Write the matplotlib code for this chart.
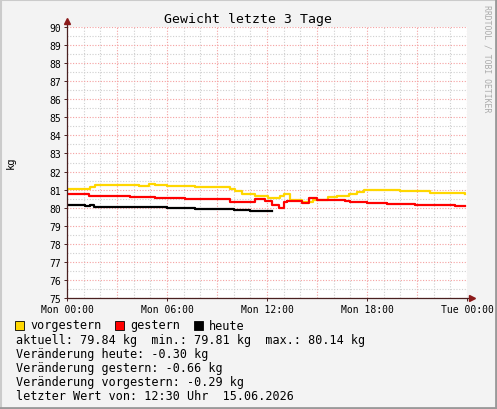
import matplotlib
matplotlib.use("Agg")
import matplotlib.pyplot as plt
from matplotlib.patches import Rectangle
from matplotlib.lines import Line2D

W, H = 497, 410
MONO = "DejaVu Sans Mono"

# hours of the day and weight in kg (step data, one line per day)
vorgestern_h = [0, 1.4, 1.7, 4.3, 4.9, 5.3, 6.0, 7.7, 9.0, 9.8, 10.1, 10.5, 11.3, 12.05,
                12.8, 13.0, 13.35, 14.1, 14.75, 15.65, 16.2, 16.9, 17.4, 17.8, 20.0, 21.8, 23.9]
vorgestern_kg = [81.05, 81.12, 81.27, 81.22, 81.3, 81.27, 81.2, 81.15, 81.12, 81.05, 80.9, 80.76,
                 80.65, 80.55, 80.62, 80.76, 80.4, 80.3, 80.43, 80.57, 80.67, 80.76, 80.85, 81.0,
                 80.92, 80.82, 80.76]

gestern_h = [0, 1.3, 3.8, 5.3, 7.1, 9.8, 11.3, 11.9, 12.3, 12.7, 13.0, 13.2, 14.1, 14.5,
             15.0, 16.7, 17.0, 18.0, 19.2, 20.9, 23.3, 23.9]
gestern_kg = [80.73, 80.66, 80.58, 80.52, 80.46, 80.34, 80.48, 80.35, 80.15, 80.0, 80.3, 80.35,
              80.27, 80.54, 80.45, 80.38, 80.3, 80.25, 80.18, 80.12, 80.08, 80.07]

heute_h = [0, 1.1, 1.35, 1.6, 3.0, 6.0, 7.7, 10.0, 11.0, 11.4, 12.3]
heute_kg = [80.14, 80.08, 80.12, 80.05, 80.05, 79.98, 79.9, 79.88, 79.81, 79.84, 79.84]

x_ticks = [0, 6, 12, 18, 24]
x_labels = ["Mon 00:00", "Mon 06:00", "Mon 12:00", "Mon 18:00", "Tue 00:00"]
y_ticks = list(range(75, 91))

legend_rows = [
    "aktuell: 79.84 kg  min.: 79.81 kg  max.: 80.14 kg",
    "Veränderung heute: -0.30 kg",
    "Veränderung gestern: -0.66 kg",
    "Veränderung vorgestern: -0.29 kg",
    "letzter Wert von: 12:30 Uhr  15.06.2026",
]


def fx(x):
    return x / W


def fy(y):
    return 1 - y / H


fig = plt.figure(figsize=(W / 100, H / 100), dpi=100, facecolor="#F3F3F3")

# plot area: x 67..467 px, y 28..299 px
ax = fig.add_axes([fx(67), fy(299), 400 / W, 271 / H])
ax.set_facecolor("white")
ax.set_xlim(0, 24)
ax.set_ylim(75, 90)

# grid
for h in range(25):
    major = h % 3 == 0
    ax.axvline(h, color="#F5A0A0" if major else "#CFCFCF", lw=0.8,
               ls=(0, (1, 1.5)), zorder=1)
for v in range(150, 181):
    kg = v / 2
    major = v % 2 == 0
    ax.axhline(kg, color="#F5A0A0" if major else "#CFCFCF", lw=0.8,
               ls=(0, (1, 1.5)), zorder=1)

ax.plot(vorgestern_h, vorgestern_kg, color="#FFD700", lw=1.6, drawstyle="steps-post", zorder=3)
ax.plot(gestern_h, gestern_kg, color="#FF0000", lw=1.6, drawstyle="steps-post", zorder=4)
ax.plot(heute_h, heute_kg, color="#000000", lw=1.6, drawstyle="steps-post", zorder=5)

for s in ax.spines.values():
    s.set_visible(False)
axis_c = "#4A2020"
ax.plot([0, 0], [75, 90.3], color=axis_c, lw=0.9, clip_on=False, zorder=6)
ax.plot([0, 24.25], [75, 75], color=axis_c, lw=0.9, clip_on=False, zorder=6)
ax.plot([0], [90.35], marker="^", color="#8B1A1A", ms=4, clip_on=False, zorder=7)
ax.plot([24.3], [75], marker=">", color="#8B1A1A", ms=4, clip_on=False, zorder=7)

ax.set_xticks(x_ticks)
ax.set_xticklabels(x_labels, fontfamily=MONO, fontsize=7)
ax.set_yticks(y_ticks)
ax.set_yticklabels([str(v) for v in y_ticks], fontfamily=MONO, fontsize=7)
ax.tick_params(axis="both", length=2, width=0.7, color=axis_c, pad=2)

# texts
fig.text(fx(248.5), fy(19), "Gewicht letzte 3 Tage", fontfamily=MONO, fontsize=9.5,
         ha="center", va="center")
fig.text(fx(11), fy(163), "kg", fontfamily=MONO, fontsize=7.5, rotation=90,
         ha="center", va="center")
fig.text(fx(487), fy(5), "RRDTOOL / TOBI OETIKER", fontfamily=MONO, fontsize=5.9,
         rotation=270, ha="center", va="top", color="#ABABAB")

# legend
row_y = 326
for x0, c, label in [(15, "#FFD700", "vorgestern"), (115, "#FF0000", "gestern"),
                     (194, "#000000", "heute")]:
    fig.patches.append(Rectangle((fx(x0), fy(row_y + 4.5)), 9 / W, 9 / H, facecolor=c,
                                 edgecolor="black", lw=0.6, transform=fig.transFigure))
    fig.text(fx(x0 + 15), fy(row_y), label, fontfamily=MONO, fontsize=8.5,
             ha="left", va="center")
for i, t in enumerate(legend_rows):
    fig.text(fx(16), fy(340.5 + i * 14), t, fontfamily=MONO, fontsize=8.5,
             ha="left", va="center")

# frame shading
fig.lines.append(Line2D([0, 1], [fy(0.5), fy(0.5)], color="#CBCBCB", lw=1.5,
                        transform=fig.transFigure))
fig.lines.append(Line2D([fx(0.5), fx(0.5)], [0, 1], color="#CBCBCB", lw=1.5,
                        transform=fig.transFigure))
fig.lines.append(Line2D([0, 1], [fy(409), fy(409)], color="#999999", lw=2,
                        transform=fig.transFigure))
fig.lines.append(Line2D([fx(496), fx(496)], [0, 1], color="#999999", lw=2,
                        transform=fig.transFigure))

fig.savefig("out.png", dpi=100, facecolor=fig.get_facecolor())
